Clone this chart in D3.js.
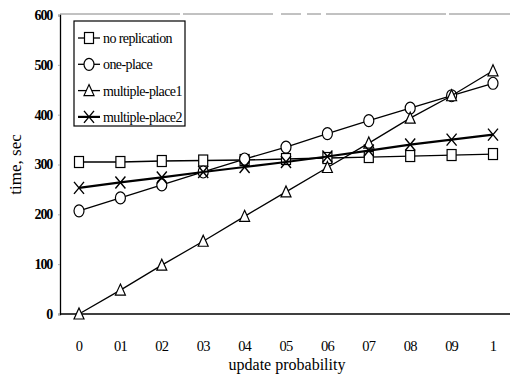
<!DOCTYPE html>
<html>
<head>
<meta charset="utf-8">
<script src="https://cdn.jsdelivr.net/npm/d3@7"></script>
<style>
  body { margin: 0; background: #fff; }
  svg, svg text { font-family: "Liberation Serif", "DejaVu Serif", serif; }
</style>
</head>
<body>
<div id="chart"></div>
<script>
// categories + tick labels
const probs = ["0", "01", "02", "03", "04", "05", "06", "07", "08", "09", "1"];
const yTicks = [0, 100, 200, 300, 400, 500, 600];

// series values (time, sec)
const noReplication = [305, 305, 307, 308, 309, 311, 313, 315, 317, 319, 321];
const onePlace = [207, 233, 259, 285, 311, 335, 362, 388, 413, 438, 463];
const multiplePlace1 = [0, 48, 98, 146, 196, 245, 294, 343, 393, 438, 488];
const multiplePlace2 = [253, 264, 274, 285, 295, 305, 316, 328, 340, 350, 360];

const seriesNames = ["no replication", "one-place", "multiple-place1", "multiple-place2"];
const seriesVals = [noReplication, onePlace, multiplePlace1, multiplePlace2];
const seriesMarks = ["square", "circle", "triangle", "cross"];

const width = 513, height = 374;
const margin = { left: 60, right: 3, top: 15, bottom: 60 };

const svg = d3.select("#chart").append("svg")
    .attr("width", width)
    .attr("height", height);

const x = d3.scalePoint()
    .domain(probs)
    .range([79, 493]);

const y = d3.scaleLinear()
    .domain([0, 600])
    .range([height - margin.bottom, margin.top]);

// top border (faint, broken like the scan)
svg.append("line")
    .attr("x1", margin.left).attr("x2", width - margin.right)
    .attr("y1", margin.top - 1).attr("y2", margin.top - 1)
    .attr("stroke", "#666")
    .attr("stroke-width", 0.8)
    .attr("stroke-dasharray", "120,3,90,8,20,6,14,5");

// y axis
const yAxis = svg.append("g")
    .attr("transform", `translate(${margin.left},0)`)
    .call(d3.axisLeft(y).tickValues(yTicks).tickSize(2).tickPadding(6));
yAxis.attr("font-family", null);
yAxis.select(".domain").attr("stroke", "#000").attr("stroke-width", 1.3);
yAxis.selectAll(".tick line").attr("stroke", "#aaa");
yAxis.selectAll("text")
    .attr("font-size", 14)
    .attr("font-weight", "bold")
    .attr("letter-spacing", -1.2)
    .attr("fill", "#000");

// x axis (baseline + labels)
svg.append("line")
    .attr("x1", margin.left).attr("x2", width - margin.right)
    .attr("y1", y(0)).attr("y2", y(0))
    .attr("stroke", "#000")
    .attr("stroke-width", 1.3);

svg.append("g").selectAll("text")
    .data(probs)
    .enter().append("text")
    .attr("x", d => x(d))
    .attr("y", y(0) + 37)
    .attr("text-anchor", "middle")
    .attr("font-size", 14.5)
    .attr("letter-spacing", -0.8)
    .text(d => d);

// axis titles
svg.append("text")
    .attr("x", 287)
    .attr("y", 370)
    .attr("text-anchor", "middle")
    .attr("font-size", 16)
    .text("update probability");

svg.append("text")
    .attr("transform", `translate(21,${y(300)}) rotate(-90)`)
    .attr("text-anchor", "middle")
    .attr("font-size", 17)
    .text("time, sec");

// markers
function drawMarker(g, type, cx, cy) {
    if (type === "square") {
        g.append("rect")
            .attr("x", cx - 4.5).attr("y", cy - 5.5)
            .attr("width", 9).attr("height", 11)
            .attr("fill", "#fff").attr("stroke", "#000").attr("stroke-width", 1.2);
    } else if (type === "circle") {
        g.append("ellipse")
            .attr("cx", cx).attr("cy", cy)
            .attr("rx", 5).attr("ry", 6)
            .attr("fill", "#fff").attr("stroke", "#000").attr("stroke-width", 1.2);
    } else if (type === "triangle") {
        g.append("path")
            .attr("d", `M${cx},${cy - 6}L${cx + 5},${cy + 5}L${cx - 5},${cy + 5}Z`)
            .attr("fill", "#fff").attr("stroke", "#000").attr("stroke-width", 1.2);
    } else {
        g.append("path")
            .attr("d", `M${cx - 5},${cy - 6}L${cx + 5},${cy + 6}M${cx + 5},${cy - 6}L${cx - 5},${cy + 6}`)
            .attr("stroke", "#000").attr("stroke-width", 1.4);
    }
}

const line = d3.line()
    .x((d, i) => x(probs[i]))
    .y(d => y(d));

seriesVals.forEach((vals, si) => {
    const g = svg.append("g");
    g.append("path")
        .datum(vals)
        .attr("d", line)
        .attr("fill", "none")
        .attr("stroke", "#000")
        .attr("stroke-width", si === 3 ? 2.2 : 1.3);
    vals.forEach((v, i) => drawMarker(g, seriesMarks[si], x(probs[i]), y(v)));
});

// legend
const legend = svg.append("g");
legend.append("rect")
    .attr("x", 74).attr("y", 21)
    .attr("width", 111).attr("height", 105)
    .attr("fill", "#fff")
    .attr("stroke", "#000")
    .attr("stroke-width", 1.2);

seriesNames.forEach((name, i) => {
    const ly = 38 + i * 26.3;
    legend.append("line")
        .attr("x1", 78).attr("x2", 100)
        .attr("y1", ly).attr("y2", ly)
        .attr("stroke", "#000")
        .attr("stroke-width", i === 3 ? 2.2 : 1.3);
    drawMarker(legend, seriesMarks[i], 89, ly);
    legend.append("text")
        .attr("x", 103)
        .attr("y", ly + 5)
        .attr("font-size", 14)
        .attr("letter-spacing", -0.6)
        .text(name);
});
</script>
</body>
</html>
